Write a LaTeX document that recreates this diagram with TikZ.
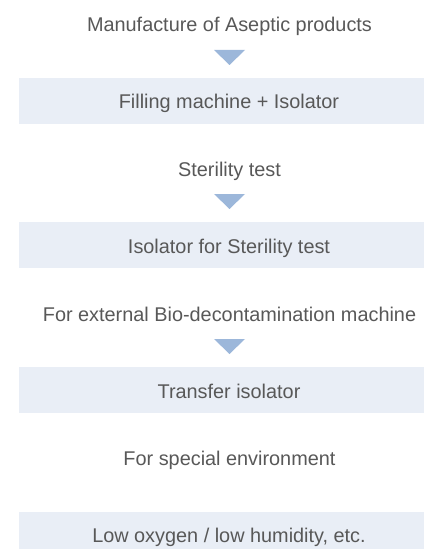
\documentclass[tikz,border=0pt]{standalone}
\usepackage{fontspec}
\setmainfont{Liberation Sans}
\usetikzlibrary{calc,positioning}
\definecolor{txtgray}{RGB}{88,88,88}
\definecolor{bandblue}{RGB}{233,238,246}
\definecolor{triblue}{RGB}{156,183,218}
\tikzset{
  lbl/.style={font=\fontsize{14.9}{17}\selectfont, text=txtgray, inner sep=0pt, anchor=base},
  band/.style={fill=bandblue},
  tri/.style={fill=triblue},
}

\begin{document}
\begin{tikzpicture}[x=0.75pt, y=-0.75pt]
  \useasboundingbox (0,0) rectangle (424,549);

  % --- Bands ---
  \foreach \y in {78,222,367,512}
    \fill[band] (19,\y) rectangle (430,\y+46);

  % --- Step labels ---
  \node[lbl] (t1) at (229.5,32) {Manufacture of Aseptic products};
  \node[lbl] (b1) at (229,109) {Filling machine + Isolator};
  \node[lbl] (t2) at (229.5,176) {Sterility test};
  \node[lbl] (b2) at (229,253) {Isolator for Sterility test};
  \node[lbl] (t3) at (229.5,321) {For external Bio-decontamination machine};
  \node[lbl] (b3) at (229,398) {Transfer isolator};
  \node[lbl] (t4) at (229.5,465) {For special environment};
  \node[lbl] (b4) at (229,542) {Low oxygen / low humidity, etc.};

  % --- Down markers ---
  \foreach \t in {t1,t2,t3}
    \fill[tri] ($(\t.base)+(-15.5,18)$) -- ++(31,0) -- ($(\t.base)+(0,33)$) -- cycle;
\end{tikzpicture}
\end{document}
